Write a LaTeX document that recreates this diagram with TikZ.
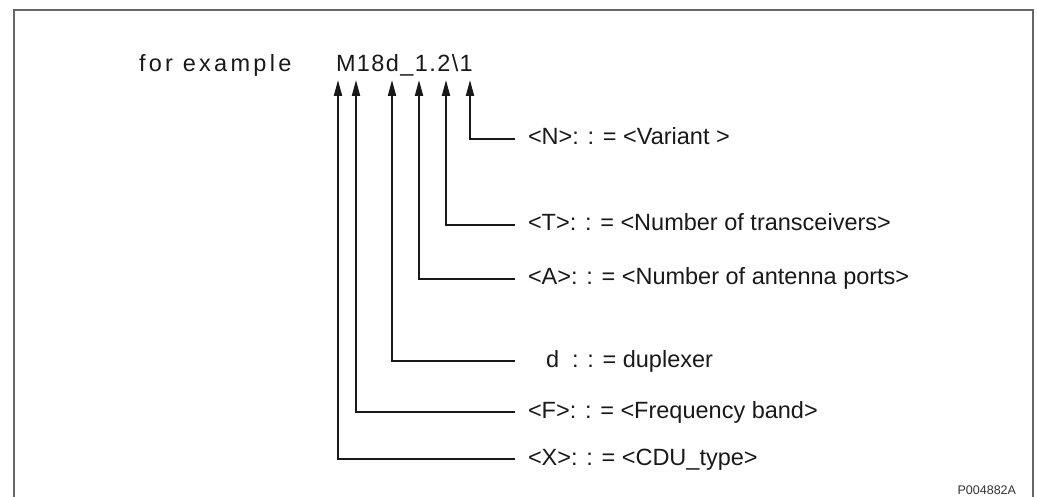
\documentclass[tikz,border=0pt]{standalone}
\usepackage{fontspec}
\setmainfont{Liberation Sans}
\newfontfamily\spacedfont[LetterSpace=14]{Liberation Sans}
\newfontfamily\codefont[LetterSpace=6]{Liberation Sans}
\usetikzlibrary{arrows.meta}

\begin{document}
\begin{tikzpicture}[
		x=1pt, y=-1pt,
		>={Triangle[length=16pt, width=8pt]}, line width=2pt,
		frame/.style={draw=black!60, line width=2pt},
		pointer/.style={->, black!90, line width=2pt},
		caption/.style={font=\spacedfont\fontsize{23.5}{28}\selectfont, text=black!90, inner sep=0pt, anchor=base west},
		codeword/.style={font=\codefont\fontsize{23.5}{28}\selectfont, text=black!90, inner sep=0pt, anchor=base west},
		field/.style={font=\fontsize{23.5}{28}\selectfont, text=black!90, anchor=west, inner xsep=12pt, inner ysep=0pt, text height=12pt, text depth=0pt},
		tag/.style={font=\fontsize{12.5}{15}\selectfont, text=black!80, inner sep=0pt, anchor=base east}
		]
		
		\useasboundingbox (0,0) rectangle (1037,497);
		
		% --- 1. The frame ---
		\draw[frame] (14,497) -- (14,10) -- (1033,10) -- (1033,497);
		\node[tag] (ref) at (1017,494) {P004882A};
		
		% --- 2. The example name ---
		\node[caption] (example) at (138,72) {for example};
		\node[codeword] (code) at (335,72) {M18d\_1.2\textbackslash 1};
		
		% arrow tips under the characters
		\coordinate (pM) at (338,80);
		\coordinate (pF) at (356,80);
		\coordinate (pD) at (392,80);
		\coordinate (pA) at (419,80);
		\coordinate (pT) at (446,80);
		\coordinate (pN) at (470,80);
		
		% --- 3. The fields ---
		\node[field] (N) at (515,139) {<N>: : = <Variant >};
		\node[field] (T) at (515,225) {<T>: : = <Number of transceivers>};
		\node[field] (A) at (515,279) {<A>: : = <Number of antenna ports>};
		\node[field] (D) at (515,361) {\hspace{18pt}d\ \ : : = duplexer};
		\node[field] (F) at (515,412) {<F>: : = <Frequency band>};
		\node[field] (X) at (515,459) {<X>: : = <CDU\_type>};
		
		\draw[pointer] (N.west) -| (pN);
		\draw[pointer] (T.west) -| (pT);
		\draw[pointer] (A.west) -| (pA);
		\draw[pointer] (D.west) -| (pD);
		\draw[pointer] (F.west) -| (pF);
		\draw[pointer] (X.west) -| (pM);
		
	\end{tikzpicture}
\end{document}
